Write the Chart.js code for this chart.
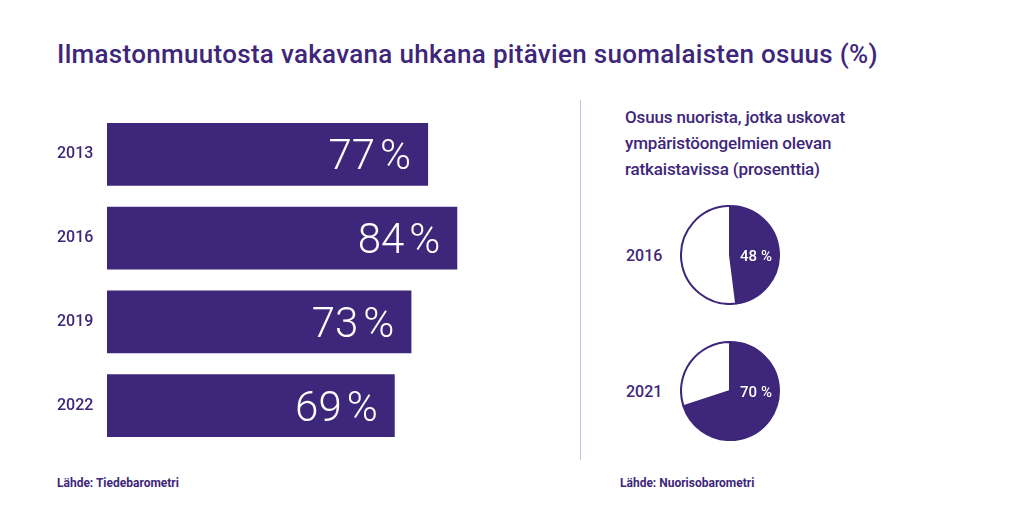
<!DOCTYPE html>
<html>
<head>
<meta charset="utf-8">
<script src="https://cdn.jsdelivr.net/npm/chart.js@4/dist/chart.umd.min.js"></script>
<style>
  body { margin: 0; background: #fff; font-family: Roboto, sans-serif; color: #3e267a }
  #wrap { position: relative; width: 1024px; height: 517px; overflow: hidden }
  .txt { position: absolute; white-space: nowrap }
  #title { left: 57px; top: 39px; font-size: 26px; font-weight: 500; letter-spacing: 0.3px }
  #sub { left: 625px; top: 104px; font-size: 17px; font-weight: 500; line-height: 26px; letter-spacing: -0.15px }
  .src { top: 476px; font-size: 12px; font-weight: 700 }
  .pyear { left: 626px; font-size: 16px; font-weight: 500 }
  #divider { position: absolute; left: 580px; top: 100px; width: 1px; height: 360px; background: #c9bde4 }
  canvas { position: absolute }
</style>
</head>
<body>
<div id="wrap">
  <div id="title" class="txt">Ilmastonmuutosta vakavana uhkana pitävien suomalaisten osuus (%)</div>
  <canvas id="bars" width="560" height="360" style="left:0;top:100px"></canvas>
  <div id="divider"></div>
  <div id="sub" class="txt">Osuus nuorista, jotka uskovat<br>ympäristöongelmien olevan<br>ratkaistavissa (prosenttia)</div>
  <div class="txt pyear" style="top:246px">2016</div>
  <canvas id="pie0" width="100" height="100" style="left:680px;top:205px"></canvas>
  <div class="txt pyear" style="top:382px">2021</div>
  <canvas id="pie1" width="100" height="100" style="left:680px;top:341px"></canvas>
  <div class="txt src" style="left:57px">Lähde: Tiedebarometri</div>
  <div class="txt src" style="left:620px">Lähde: Nuorisobarometri</div>
</div>
<script>
const purple = '#3e267a'

const barYears = ['2013', '2016', '2019', '2022']
const barValues = [77, 84, 73, 69]

const pieYears = ['2016', '2021']
const pieValues = [48, 70]

// number + "%" with a narrow gap, right edge at x
function pctText(ctx, value, x, y, gap) {
  ctx.textAlign = 'right'
  ctx.fillText('%', x, y)
  const pw = ctx.measureText('%').width
  ctx.fillText(String(value), x - pw - gap, y)
}

const barLabels = {
  id: 'barLabels',
  afterDatasetsDraw(chart) {
    const ctx = chart.ctx
    ctx.save()
    ctx.fillStyle = '#fff'
    ctx.font = '300 42px Roboto'
    ctx.textBaseline = 'alphabetic'
    chart.getDatasetMeta(0).data.forEach((bar, i) => {
      pctText(ctx, barValues[i], bar.x - 17, bar.y + 15, 5)
    })
    ctx.restore()
  }
}

new Chart(document.getElementById('bars'), {
  type: 'bar',
  data: {
    labels: barYears,
    datasets: [{
      data: barValues,
      backgroundColor: purple,
      borderWidth: 0,
      barPercentage: 0.75,
      categoryPercentage: 1
    }]
  },
  options: {
    indexAxis: 'y',
    responsive: false,
    animation: false,
    devicePixelRatio: 1,
    layout: { padding: { left: 57, right: 36, top: 12.5, bottom: 11.5 } },
    plugins: { legend: { display: false }, tooltip: { enabled: false } },
    scales: {
      x: { display: false, min: 0, max: 100 },
      y: {
        grid: { display: false },
        border: { display: false },
        afterFit: scale => { scale.width = 50 },
        ticks: {
          crossAlign: 'far',
          color: purple,
          font: { family: 'Roboto', size: 16, weight: 500 }
        }
      }
    }
  },
  plugins: [barLabels]
})

const pieLabel = {
  id: 'pieLabel',
  afterDatasetsDraw(chart) {
    const arc = chart.getDatasetMeta(0).data[0]
    const ctx = chart.ctx
    ctx.save()
    ctx.fillStyle = '#fff'
    ctx.font = '500 15px Roboto'
    ctx.textBaseline = 'alphabetic'
    pctText(ctx, chart.data.datasets[0].data[0], arc.x + arc.outerRadius * 0.86, arc.y + 6, 4)
    ctx.restore()
  }
}

pieValues.forEach((v, i) => {
  new Chart(document.getElementById('pie' + i), {
    type: 'pie',
    data: {
      labels: [pieYears[i], ''],
      datasets: [{
        data: [v, 100 - v],
        backgroundColor: [purple, '#fff'],
        borderColor: purple,
        borderWidth: 2
      }]
    },
    options: {
      responsive: false,
      animation: false,
      devicePixelRatio: 1,
      plugins: { legend: { display: false }, tooltip: { enabled: false } }
    },
    plugins: [pieLabel]
  })
})
</script>
</body>
</html>
